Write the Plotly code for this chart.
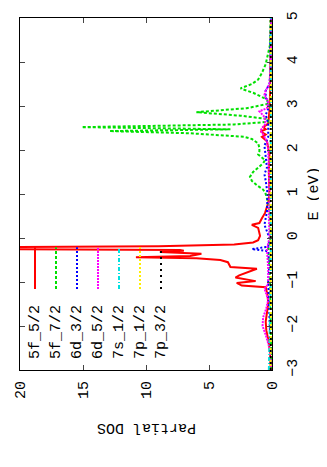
import plotly.graph_objects as go

# energy (eV) and partial DOS, one pair of lists per orbital
e_5f52 = [-3.0, -2.6, -2.3, -2.1, -1.9, -1.7, -1.5, -1.3, -1.12, -1.08, -1.02, -0.98, -0.9, -0.85,
          -0.7, -0.66, -0.55, -0.5, -0.46, -0.44, -0.41, -0.36, -0.32, -0.29, -0.27, -0.25, -0.22,
          -0.19, -0.15, -0.1, -0.05, 0.05, 0.15, 0.23, 0.3, 0.34, 0.45, 0.57, 0.8, 1.0, 1.5, 1.9,
          2.2, 2.3, 2.35, 2.42, 2.47, 2.52, 2.6, 2.9, 3.3, 4.0, 5.0]
dos_5f52 = [0.1, 0.15, 0.3, 0.45, 0.5, 0.4, 0.3, 0.35, 0.5, 2.4, 2.8, 1.3, 2.9, 2.6,
            1.2, 3.3, 3.5, 4.1, 6.0, 10.8, 6.5, 5.6, 8.9, 7.0, 7.3, 28.0, 30.0,
            9.0, 3.0, 1.5, 1.1, 0.95, 1.0, 1.1, 1.6, 1.0, 0.8, 0.55, 0.3, 0.2, 0.25, 0.2,
            0.4, 0.8, 0.5, 0.9, 0.5, 0.7, 0.3, 0.2, 0.15, 0.1, 0.08]

e_5f72 = [-3.0, -2.0, -1.0, -0.23, 0.0, 0.5, 0.8, 1.0, 1.1, 1.2, 1.3, 1.39, 1.5, 1.6, 1.7, 1.77,
          1.85, 1.9, 1.97, 2.05, 2.15, 2.25, 2.3, 2.35, 2.38, 2.43, 2.47, 2.52, 2.58, 2.64, 2.7,
          2.78, 2.86, 2.95, 3.05, 3.15, 3.3, 3.4, 3.5, 3.6, 3.75, 3.95, 4.2, 4.4, 5.0]
dos_5f72 = [0.05, 0.1, 0.15, 0.3, 0.1, 0.15, 0.3, 0.5, 0.7, 1.2, 1.6, 1.75, 1.5, 1.1, 0.7, 0.55,
            0.9, 1.1, 1.0, 1.0, 1.1, 1.6, 2.2, 4.5, 6.5, 12.9, 3.3, 15.1, 3.0, 0.3, 0.3,
            2.5, 6.0, 2.0, 0.3, 0.4, 1.5, 2.5, 1.6, 1.1, 0.8, 0.5, 0.3, 0.15, 0.1]

e_6d32 = [-3.0, -2.5, -2.0, -1.5, -1.0, -0.6, -0.3, -0.25, -0.2, 0.0, 0.3, 0.6, 1.0, 1.3, 1.45,
          1.6, 1.9, 2.1, 2.3, 2.6, 2.8, 3.0, 3.2, 3.35, 3.5, 3.9, 4.4, 5.0]
dos_6d32 = [0.05, 0.1, 0.2, 0.2, 0.3, 0.2, 0.3, 1.6, 0.3, 0.2, 0.6, 0.4, 0.35, 0.5, 0.6,
            0.4, 0.5, 0.6, 0.3, 0.3, 0.5, 0.2, 0.5, 0.5, 0.2, 0.1, 0.15, 0.05]

e_6d52 = [-3.0, -2.5, -2.2, -2.0, -1.8, -1.6, -1.4, -1.15, -1.05, -0.7, -0.25, 0.0, 0.5, 1.0,
          1.5, 2.0, 2.2, 2.45, 2.6, 2.75, 2.88, 2.95, 3.1, 3.25, 3.35, 3.5, 4.0, 5.0]
dos_6d52 = [0.05, 0.2, 0.5, 0.75, 0.7, 0.45, 0.3, 0.6, 0.3, 0.3, 0.4, 0.2, 0.25, 0.2,
            0.25, 0.3, 0.4, 0.9, 0.5, 0.6, 1.0, 0.4, 0.3, 0.6, 0.5, 0.2, 0.1, 0.05]

e_7s12 = [-3.0, -2.5, -2.0, -1.0, 0.0, 1.0, 2.0, 3.0, 4.0, 5.0]
dos_7s12 = [0.25, 0.2, 0.15, 0.1, 0.1, 0.1, 0.1, 0.1, 0.1, 0.1]

e_7p12 = [-3.0, -2.0, -1.0, 0.0, 1.0, 2.0, 3.0, 4.0, 5.0]
dos_7p12 = [0.1, 0.1, 0.1, 0.1, 0.1, 0.1, 0.1, 0.1, 0.1]

e_7p32 = [-3.0, -2.0, -1.0, 0.0, 1.0, 2.0, 3.0, 4.0, 5.0]
dos_7p32 = [0.1, 0.1, 0.1, 0.1, 0.1, 0.1, 0.1, 0.1, 0.1]

labels = ["5f_5/2", "5f_7/2", "6d_3/2", "6d_5/2", "7s_1/2", "7p_1/2", "7p_3/2"]
colors = ["#ff0000", "#00e000", "#0000ff", "#ff00ff", "#00e0e0", "#ffee00", "#000000"]
dashes = ["solid", "3px,2px", "2px,2px", "2px,1px", "4px,2px,1px,2px", "2px,2px", "2px,4px"]
series = [(e_5f52, dos_5f52), (e_5f72, dos_5f72), (e_6d32, dos_6d32), (e_6d52, dos_6d52),
          (e_7s12, dos_7s12), (e_7p12, dos_7p12), (e_7p32, dos_7p32)]

FONT = "Liberation Mono"
FS = 15

fig = go.Figure()
for (e, dos), name, col, dash in zip(series, labels, colors, dashes):
    fig.add_trace(go.Scatter(x=dos, y=e, mode="lines", name=name,
                             line=dict(color=col, width=2, dash=dash)))

# rotated key: text reading upward, sample line above it
for i, (name, col, dash) in enumerate(zip(labels, colors, dashes)):
    xp = (35 + 21 * i - 20) / 252
    fig.add_annotation(x=xp, y=0.19, xref="paper", yref="paper", text=name,
                       textangle=-90, showarrow=False, xanchor="center", yanchor="top",
                       font=dict(family=FONT, size=FS, color="black"))
    fig.add_shape(type="line", xref="paper", yref="paper", x0=xp, x1=xp, y0=0.23, y1=0.349,
                  line=dict(color=col, width=2, dash=dash))

fig.add_annotation(x=0.504, y=-0.165, xref="paper", yref="paper", text="Partial DOS",
                   textangle=180, showarrow=False, xanchor="center", yanchor="middle",
                   font=dict(family=FONT, size=FS, color="black"))
fig.add_annotation(x=1.165, y=0.5, xref="paper", yref="paper", text="E (eV)",
                   textangle=-90, showarrow=False, xanchor="center", yanchor="middle",
                   font=dict(family=FONT, size=FS, color="black"))

fig.update_xaxes(range=[20, 0], dtick=5, tickangle=-90, ticks="inside", ticklen=5,
                 showline=True, linecolor="black", linewidth=1, mirror="ticks",
                 showgrid=False, zeroline=False, ticklabelstandoff=4, automargin=False)
fig.update_yaxes(range=[-3, 5], dtick=1, side="right", tickangle=-90, ticks="inside", ticklen=5,
                 showline=True, linecolor="black", linewidth=1, mirror="ticks",
                 showgrid=False, zeroline=False, ticklabelstandoff=6, automargin=False)
# the page body adds 8px on the top and left, so the figure is made that much smaller
fig.update_layout(width=319, height=459, showlegend=False,
                  margin=dict(l=12, r=55, t=10, b=97),
                  plot_bgcolor="white", paper_bgcolor="white",
                  font=dict(family=FONT, size=FS, color="black"))
fig.write_html("out.html")
